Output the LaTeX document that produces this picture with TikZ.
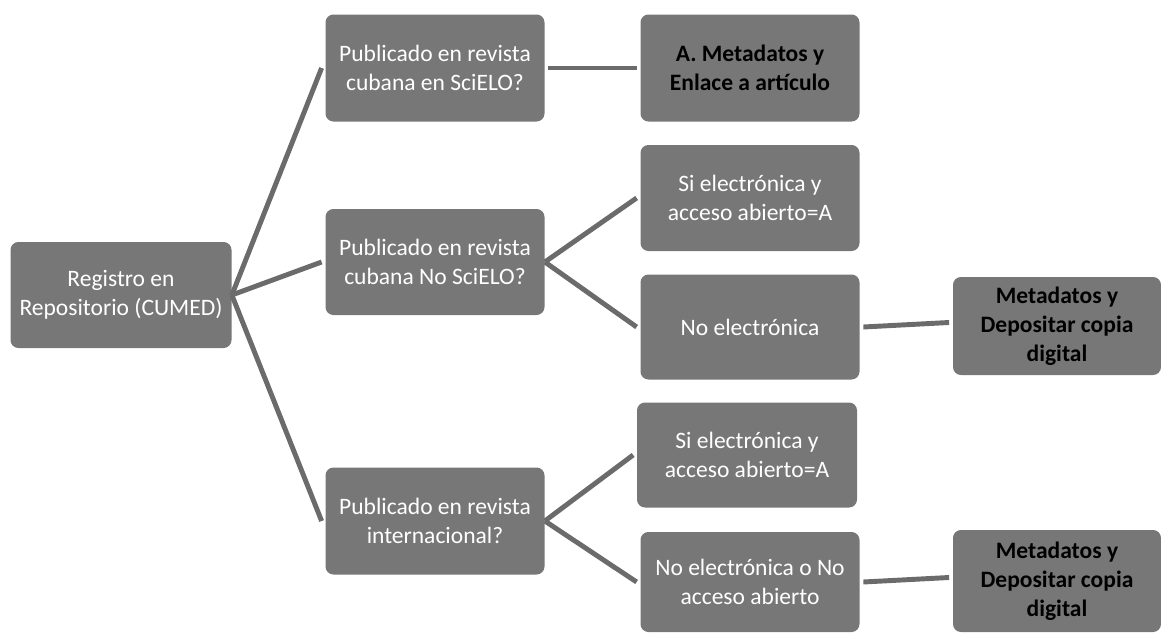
\documentclass[tikz,border=0pt]{standalone}
\usepackage{fontspec}
\setmainfont{Carlito}
\usepackage{tikz}
\definecolor{boxgray}{HTML}{777777}
\definecolor{linegray}{HTML}{6B6B6B}

\begin{document}
\begin{tikzpicture}[x=0.02cm, y=-0.02cm]
    \tikzstyle{gbx} += [fill=boxgray, rounded corners=4.5pt, align=center, inner sep=0pt,
      text=white, font=\fontsize{13.4}{16.6}\selectfont];
    \tikzstyle{gbk} += [gbx, text=black, font=\fontsize{13.4}{16.6}\selectfont\bfseries];
    \useasboundingbox (0,0) rectangle (1161,633);
    \node (r_1) at ( 121, 295) [gbx, minimum width=221*0.02cm, minimum height=106*0.02cm]{Registro en\\Repositorio (CUMED)};
    \node (p_1) at ( 435,  68) [gbx, minimum width=219*0.02cm, minimum height=107*0.02cm]{Publicado en revista\\cubana en SciELO?};
    \node (p_2) at ( 435, 262) [gbx, minimum width=219*0.02cm, minimum height=106*0.02cm]{Publicado en revista\\cubana No SciELO?};
    \node (p_3) at ( 435, 521) [gbx, minimum width=219*0.02cm, minimum height=107*0.02cm]{Publicado en revista\\internacional?};
    \node (q_1) at ( 750,  68) [gbk, minimum width=219*0.02cm, minimum height=107*0.02cm]{A. Metadatos y\\Enlace a artículo};
    \node (q_2) at ( 750, 198) [gbx, minimum width=219*0.02cm, minimum height=106*0.02cm]{Si electrónica y\\acceso abierto=A};
    \node (q_3) at ( 750, 327) [gbx, minimum width=219*0.02cm, minimum height=105*0.02cm]{No electrónica};
    \node (q_4) at ( 747, 455) [gbx, minimum width=220*0.02cm, minimum height=105*0.02cm]{Si electrónica y\\acceso abierto=A};
    \node (q_5) at ( 750, 582) [gbx, minimum width=219*0.02cm, minimum height=100*0.02cm]{No electrónica o No\\acceso abierto};
    \node (m_1) at (1057, 326) [gbk, minimum width=208*0.02cm, minimum height=98*0.02cm]{Metadatos y\\Depositar copia\\digital};
    \node (m_2) at (1057, 581) [gbk, minimum width=208*0.02cm, minimum height=102*0.02cm]{Metadatos y\\Depositar copia\\digital};

    \begin{scope}[linegray, line width=2.8pt]
      \draw (r_1.east) -- ([xshift=-2pt]p_1.west);
      \draw (r_1.east) -- ([xshift=-2pt]p_2.west);
      \draw (r_1.east) -- ([xshift=-2pt]p_3.west);
      \draw ([xshift=2pt]p_1.east) -- ([xshift=-2pt]q_1.west);
      \draw (p_2.east) -- ([xshift=-2pt]q_2.west);
      \draw (p_2.east) -- ([xshift=-2pt]q_3.west);
      \draw (p_3.east) -- ([xshift=-2pt]q_4.west);
      \draw (p_3.east) -- ([xshift=-2pt]q_5.west);
      \draw ([xshift=2pt]q_3.east) -- ([xshift=-2pt, yshift=2pt]m_1.west);
      \draw ([xshift=2pt]q_5.east) -- ([xshift=-2pt, yshift=2pt]m_2.west);
    \end{scope}
\end{tikzpicture}
\end{document}
